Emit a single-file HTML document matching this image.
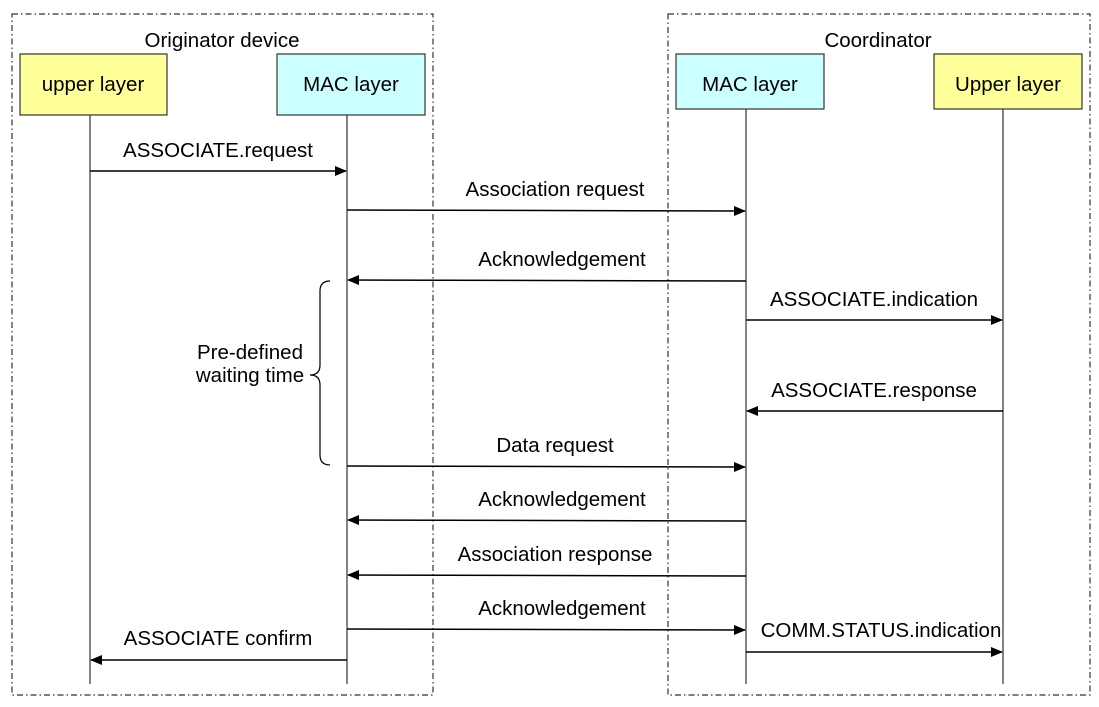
<!DOCTYPE html>
<html><head><style>body{margin:0;background:#fff}</style></head><body>
<svg width="1099" height="702" xmlns="http://www.w3.org/2000/svg" font-family="Liberation Sans, sans-serif" font-size="20.5" fill="#000">
<defs><marker id="a" markerWidth="12" markerHeight="10" refX="11" refY="5" orient="auto" markerUnits="userSpaceOnUse"><path d="M0,0 L12,5 L0,10z" fill="#000"/></marker></defs>
<g fill="none" stroke="#333" stroke-width="1.2" stroke-dasharray="6,3,1.5,3">
<rect x="12" y="14" width="421" height="681"/>
<rect x="668" y="14" width="422" height="681"/>
</g>
<text x="222" y="47" text-anchor="middle">Originator device</text>
<text x="878" y="47" text-anchor="middle">Coordinator</text>
<g stroke="#333" stroke-width="1.2">
<rect x="20" y="54" width="147" height="61" fill="#ffff99"/>
<rect x="277" y="54" width="148" height="61" fill="#ccffff"/>
<rect x="676" y="54" width="148" height="55" fill="#ccffff"/>
<rect x="934" y="54" width="148" height="55" fill="#ffff99"/>
<line x1="90" y1="115" x2="90" y2="684"/>
<line x1="347" y1="115" x2="347" y2="684"/>
<line x1="746" y1="109" x2="746" y2="684"/>
<line x1="1003" y1="109" x2="1003" y2="684"/>
</g>
<text x="93" y="91" text-anchor="middle">upper layer</text>
<text x="351" y="91" text-anchor="middle">MAC layer</text>
<text x="750" y="91" text-anchor="middle">MAC layer</text>
<text x="1008" y="91" text-anchor="middle">Upper layer</text>
<g stroke="#000" stroke-width="1.5" marker-end="url(#a)">
<line x1="90" y1="171" x2="346" y2="171"/>
<line x1="347" y1="210" x2="745" y2="211"/>
<line x1="746" y1="281" x2="348" y2="280"/>
<line x1="746" y1="320" x2="1002" y2="320"/>
<line x1="1003" y1="411" x2="747" y2="411"/>
<line x1="347" y1="466" x2="745" y2="467"/>
<line x1="746" y1="521" x2="348" y2="520"/>
<line x1="746" y1="576" x2="348" y2="575"/>
<line x1="347" y1="629" x2="745" y2="630"/>
<line x1="746" y1="652" x2="1002" y2="652"/>
<line x1="347" y1="660" x2="91" y2="660"/>
</g>
<text x="218" y="157" text-anchor="middle">ASSOCIATE.request</text>
<text x="555" y="196" text-anchor="middle">Association request</text>
<text x="562" y="266" text-anchor="middle">Acknowledgement</text>
<text x="874" y="306" text-anchor="middle">ASSOCIATE.indication</text>
<text x="874" y="397" text-anchor="middle">ASSOCIATE.response</text>
<text x="555" y="452" text-anchor="middle">Data request</text>
<text x="562" y="506" text-anchor="middle">Acknowledgement</text>
<text x="555" y="561" text-anchor="middle">Association response</text>
<text x="562" y="615" text-anchor="middle">Acknowledgement</text>
<text x="881" y="637" text-anchor="middle">COMM.STATUS.indication</text>
<text x="218" y="645" text-anchor="middle">ASSOCIATE confirm</text>
<path d="M330,281 Q320,281 320,291 L320,365 Q320,375 310,375 Q320,375 320,385 L320,455 Q320,465 330,465" fill="none" stroke="#000" stroke-width="1.2"/>
<text x="250" y="359" text-anchor="middle">Pre-defined</text>
<text x="250" y="382" text-anchor="middle">waiting time</text>
</svg>
</body></html>
